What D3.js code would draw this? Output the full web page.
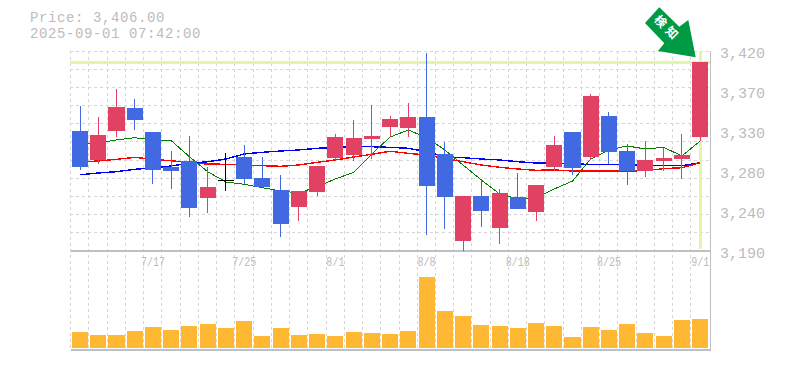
<!DOCTYPE html>
<html><head><meta charset="utf-8">
<style>html,body{margin:0;padding:0;background:#fff}svg{display:block}</style>
<script src="https://cdn.jsdelivr.net/npm/d3@7/dist/d3.min.js"></script></head>
<body><div id="c"></div>
<script>
const dateLabels = {4:"7/17",9:"7/25",14:"8/1",19:"8/8",24:"8/18",29:"8/25",34:"9/1"};
const priceTicks = [3419,3373,3327,3281,3235,3189];
const priceLabels = ["3,420","3,370","3,330","3,280","3,240","3,190"];
const opens =  [3327,3293.7,3327,3353.5,3325.9,3285.6,3292.5,3250,3270.7,3297.1,3273,3259.2,3239.6,3256.9,3296,3299.4,3317.8,3331.6,3330.5,3343.1,3300.6,3200.5,3252.3,3215.5,3251.1,3233.9,3285.6,3325.9,3297.1,3344.3,3304,3281,3292.5,3294.8,3320.1];
const highs =  [3355.8,3343.1,3375.3,3363.8,3325.9,3304,3321.3,3285.6,3301.7,3310.9,3297.1,3276.4,3258,3286.8,3323.6,3339.7,3356.9,3344.3,3359.2,3416.7,3314.4,3252.3,3270.7,3260.3,3278.7,3264.9,3321.3,3325.9,3369.6,3348.9,3312.1,3315.5,3307.5,3323.6,3406];
const lows =   [3282.2,3289.1,3320.1,3328.2,3266.1,3260.3,3228.1,3232.7,3258,3266.1,3262.6,3205.1,3223.5,3252.3,3292.5,3292.5,3294.8,3320.1,3320.1,3207.4,3214.3,3189,3216.6,3197.1,3237.3,3223.5,3281,3276.4,3293.7,3289.1,3264.9,3274.1,3281,3271.8,3315.5];
const closes = [3285.6,3322.4,3354.6,3339.7,3282.2,3281,3238.5,3262.6,3270.7,3271.8,3262.6,3220.1,3258,3286.8,3320.1,3319,3321.3,3340.8,3343.1,3263.8,3251.1,3252.3,3235,3255.7,3237.3,3264.9,3310.9,3284.5,3367.3,3302.9,3281,3293.7,3296,3299.4,3406];
const maShort = [3312.1,3313.2,3316.7,3319.3,3316.7,3315.9,3297.4,3280.2,3268.4,3265.7,3261.8,3258,3255.7,3263,3271.8,3279.5,3300.6,3320.1,3328.2,3319.3,3305.2,3287.9,3270.7,3254.6,3248.8,3250,3260.3,3269.5,3294.8,3305.2,3309.8,3306.3,3308.2,3298.3,3315.5];
const maMid = [3291.4,3292.5,3294.4,3296.7,3294.4,3292.8,3290.5,3289,3288.7,3287.9,3287.1,3286.4,3287.9,3291,3293.7,3297.1,3300.2,3303.7,3301.3,3299.4,3295.6,3291.7,3287.9,3285.3,3283.3,3281.8,3282.2,3281,3281,3281,3281,3281.4,3283.7,3284.8,3290.5];
const maLong = [3276.7,3278.7,3280.2,3283,3284.5,3286.8,3289.8,3291.7,3294.8,3300.6,3302.5,3304,3305.2,3307.1,3308.2,3308.9,3308.9,3308.2,3307.1,3303.2,3297.4,3296.3,3294.8,3293.7,3291.7,3290.2,3289.8,3289,3288.7,3288.7,3287.9,3287.5,3287.1,3287.1,3290.5];
const volumes = [16,13,13,17,21,18,22,24,20,27,12,20,13,14,12,16,15,14,17,71,37,32,23,22,20,25,22,11,21,18,24,15,12,28,29];
const lastPrice = 3406;
const title = ["Price: 3,406.00","2025-09-01 07:42:00"];

const W=785,H=370;
const svg=d3.select("#c").append("svg").attr("width",W).attr("height",H);
const idx=d3.range(opens.length);
const x=d3.scaleBand().domain(idx).range([70.9,709.3]).paddingInner(0.12).paddingOuter(0.06);
const cx=i=>x(i)+x.bandwidth()/2;
const step=x.step();
const y=d3.scaleLinear().domain([3189,3419]).range([251,51]);
const v=d3.scaleLinear().domain([0,71]).range([348,277]);
const MONO='"Liberation Mono","DejaVu Sans Mono",monospace';
const GRID="#d6d6d6",AXIS="#bfbfbf",TXT="#bcbcbc",HL="#e2f7a6";
const UP="#e14263",DOWN="#4169e1";

// grid
const grid=svg.append("g").attr("shape-rendering","crispEdges");
d3.range(0,11).forEach(k=>{
  const gy=51+k*200/11;
  grid.append("line").attr("x1",70).attr("x2",710).attr("y1",gy).attr("y2",gy)
    .attr("stroke",GRID).attr("stroke-dasharray","3,3");
});
d3.range(0,35).forEach(k=>{
  const gx=70.7+k*step;
  grid.append("line").attr("x1",gx).attr("x2",gx).attr("y1",51).attr("y2",350)
    .attr("stroke",GRID).attr("stroke-dasharray","3,3");
});
grid.append("path").attr("d","M70.5,251H710M70.5,350H710.5M710.5,51V350").attr("fill","none").attr("stroke",AXIS).attr("stroke-width",1.5);

// last price highlight
grid.append("line").attr("x1",70).attr("x2",710).attr("y1",y(lastPrice)).attr("y2",y(lastPrice)).attr("stroke",HL).attr("stroke-width",3);
grid.append("line").attr("x1",cx(34)).attr("x2",cx(34)).attr("y1",51).attr("y2",249).attr("stroke",HL).attr("stroke-width",3);

// moving averages
const line=d3.line().x((d,i)=>cx(i)).y(d=>y(d));
[[maLong,"#0000ff",1.4],[maMid,"#ff0000",1.4],[maShort,"#007f00",1]].forEach(([s,c,w])=>{
  svg.append("path").attr("d",line(s)).attr("fill","none").attr("stroke",c).attr("stroke-width",w).attr("shape-rendering","crispEdges");
});

// candles
const col=i=>closes[i]>opens[i]?UP:closes[i]<opens[i]?DOWN:"#000";
const g=svg.append("g").attr("shape-rendering","crispEdges");
g.selectAll(".w").data(idx).join("line").attr("x1",cx).attr("x2",cx)
  .attr("y1",i=>y(highs[i])).attr("y2",i=>y(lows[i])).attr("stroke",col);
g.selectAll(".b").data(idx).join("rect").attr("x",i=>x(i)).attr("width",x.bandwidth())
  .attr("y",i=>y(Math.max(opens[i],closes[i])))
  .attr("height",i=>Math.max(1,Math.abs(y(opens[i])-y(closes[i])))).attr("fill",col);

// volume
svg.append("g").attr("shape-rendering","crispEdges").selectAll("rect").data(idx).join("rect")
  .attr("x",i=>x(i)).attr("width",x.bandwidth()).attr("y",i=>v(volumes[i])).attr("height",i=>348-v(volumes[i])).attr("fill","#ffb833");

// axes text
const yAxis=d3.axisRight(y).tickValues(priceTicks).tickFormat((d,i)=>priceLabels[i]).tickSize(0).tickPadding(0);
const ya=svg.append("g").attr("transform","translate(720,2)").call(yAxis);
ya.select(".domain").remove();
ya.selectAll("text").attr("font-family",MONO).attr("font-size",15).attr("fill",TXT);

const xa=svg.append("g");
Object.entries(dateLabels).forEach(([i,t])=>{
  xa.append("text").attr("transform",`translate(${cx(+i)},266) scale(0.77,1)`).attr("text-anchor","middle")
   .attr("font-family",MONO).attr("font-size",13).attr("fill",TXT).text(t);
});

svg.selectAll(".t").data(title).join("text").attr("x",30).attr("y",(d,i)=>21.5+i*16)
  .attr("font-family",MONO).attr("font-size",14).attr("letter-spacing",0.6).attr("fill",TXT).text(d=>d);

// arrow
svg.append("path").attr("d","M645,23L659.3,7.3L679.3,26.7L688.3,20L695.7,57.3L658,51L664.3,43.3Z").attr("fill","#009944");
svg.append("text").attr("transform","translate(667.5,28.5) rotate(45)").attr("text-anchor","middle").attr("dy","0.35em")
  .attr("font-family",'"Noto Sans CJK JP"').attr("font-weight",700).attr("font-size",12).attr("letter-spacing",4).attr("fill","#fff").text("検知");
</script></body></html>
